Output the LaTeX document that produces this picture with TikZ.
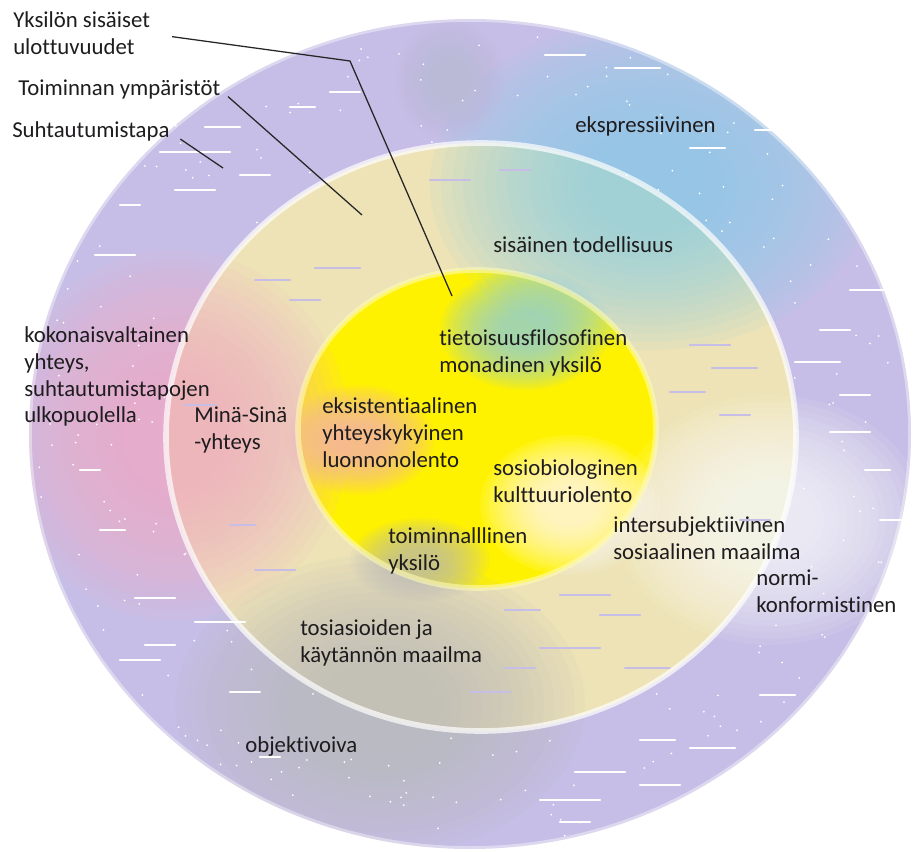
\documentclass[tikz,border=0pt]{standalone}
\usepackage{fontspec}
\setmainfont{Carlito}[Ligatures=CommonOff]

\definecolor{ringpurple}{RGB}{198,190,230}
\definecolor{ringbeige}{RGB}{237,227,182}
\definecolor{coreyellow}{RGB}{255,242,0}
\definecolor{spraycyan}{RGB}{140,208,230}
\definecolor{spraypink}{RGB}{246,172,198}
\definecolor{spraygray}{RGB}{186,186,186}
\definecolor{labeltext}{RGB}{30,28,30}

\def\outerring{(470,434) ellipse [x radius=441, y radius=415]}
\def\middlering{(481,437) ellipse [x radius=315, y radius=294]}
\def\innerring{(477,429) ellipse [x radius=179, y radius=159]}

% soft spray patch: colour, opacity, x, y, x radius, y radius
\newcommand\spraypatch[6]{%
  \foreach \s in {20,19,...,6}
    \fill[#1, opacity=#2] (#3,#4) ellipse [x radius=#5*\s/20, y radius=#6*\s/20];}

\begin{document}
\begin{tikzpicture}[x=0.025cm, y=-0.025cm,
    label/.style={anchor=base west, align=left, inner sep=0pt, text=labeltext, font=\fontsize{16.2}{19.2}\selectfont},
    leader/.style={draw=black!85, line width=0.9pt},
    streak/.style={line width=1.6pt, line cap=round}]
\useasboundingbox (0,0) rectangle (913,852);

\fill[ringpurple] \outerring;
\fill[ringbeige] \middlering;
\fill[coreyellow] \innerring;

\begin{scope}
  \clip \outerring;
  \spraypatch{spraycyan}{0.085}{650}{185}{220}{165}
  \spraypatch{spraycyan}{0.09}{525}{330}{85}{60}
  \spraypatch{spraygray}{0.025}{450}{80}{55}{60}
  \spraypatch{spraypink}{0.085}{175}{435}{175}{185}
  \spraypatch{spraypink}{0.08}{360}{440}{75}{55}
  \spraypatch{white}{0.08}{770}{520}{155}{125}
  \spraypatch{white}{0.09}{570}{505}{90}{70}
  \spraypatch{spraygray}{0.085}{380}{705}{205}{150}
  \spraypatch{spraygray}{0.08}{420}{560}{70}{42}
\end{scope}

\begin{scope}[even odd rule]
  \clip \outerring \middlering;
  \pgfmathsetseed{41}
  \foreach \i in {1,...,500} {
    \pgfmathsetmacro\px{30+880*rnd}
    \pgfmathsetmacro\py{20+830*rnd}
    \fill[white] (\px,\py) circle [radius=1];
  }
\end{scope}

\foreach \x/\y/\l in {160/152/70, 205/127/35, 290/107/25, 240/175/30, 175/190/40, 120/205/20,
    330/92/30, 545/55/40, 615/68/45, 700/75/30, 755/130/50, 690/148/35, 850/290/35, 820/330/30,
    795/362/45, 840/395/30, 830/432/40, 865/470/25, 880/520/30, 640/740/35, 690/748/45, 575/772/50,
    640/785/40, 540/800/60, 760/695/35, 820/700/30, 560/822/30, 135/598/40, 195/622/50, 145/645/30,
    120/660/40, 230/692/30, 260/757/20, 95/255/40, 80/470/20, 100/530/25}
  \draw[streak, white] (\x,\y) -- ++(\l,0);
\foreach \x/\y/\l in {255/280/35, 315/268/45, 290/300/30, 430/180/40, 500/170/30, 690/345/40,
    712/368/45, 670/392/35, 720/415/30, 560/595/50, 505/610/35, 600/615/40, 540/648/60, 505/668/30,
    625/668/45, 470/692/40, 185/405/30, 230/525/25, 255/570/40, 740/520/30}
  \draw[streak, ringpurple] (\x,\y) -- ++(\l,0);

\draw[white, line width=4pt, opacity=0.4] \outerring;
\draw[white, line width=4pt, opacity=0.7] \middlering;
\draw[coreyellow!30!white, line width=4pt, opacity=0.6] \innerring;

\node[label] (yksilo) at (13,55) {Yksilön sisäiset\\ulottuvuudet};
\node[label] (toiminta) at (18,96) {Toiminnan ympäristöt};
\node[label] (suhtautuminen) at (12,138) {Suhtautumistapa};
\node[label] (ekspressiivinen) at (575,133) {ekspressiivinen};
\node[label] (sisainen) at (493,253) {sisäinen todellisuus};
\node[label] (tietoisuus) at (439,372) {tietoisuusfilosofinen\\monadinen yksilö};
\node[label] (eksistentiaalinen) at (322,467) {eksistentiaalinen\\yhteyskykyinen\\luonnonolento};
\node[label] (minasina) at (194,449) {Minä-Sinä\\-yhteys};
\node[label] (kokonais) at (24,423) {kokonaisvaltainen\\yhteys,\\suhtautumistapojen\\ulkopuolella};
\node[label] (sosiobio) at (493,502) {sosiobiologinen\\kulttuuriolento};
\node[label] (toiminnallinen) at (388,570) {toiminnalllinen\\yksilö};
\node[label] (intersub) at (613,559) {intersubjektiivinen\\sosiaalinen maailma};
\node[label] (normi) at (756,612) {normi-\\konformistinen};
\node[label] (tosiasiat) at (300,662) {tosiasioiden ja\\käytännön maailma};
\node[label] (objektivoiva) at (245,752) {objektivoiva};

\coordinate (yksilo-bend) at (350,61);
\coordinate (yksilo-end) at (452,296);
\coordinate (toiminta-end) at (362,215);
\coordinate (suhtautuminen-end) at (223,168);
\draw[leader, shorten <=0.55cm] (yksilo.east) -- (yksilo-bend) -- (yksilo-end);
\draw[leader, shorten <=0.25cm] (toiminta.east) -- (toiminta-end);
\draw[leader, shorten <=0.32cm] (suhtautuminen.east) -- (suhtautuminen-end);
\end{tikzpicture}
\end{document}
